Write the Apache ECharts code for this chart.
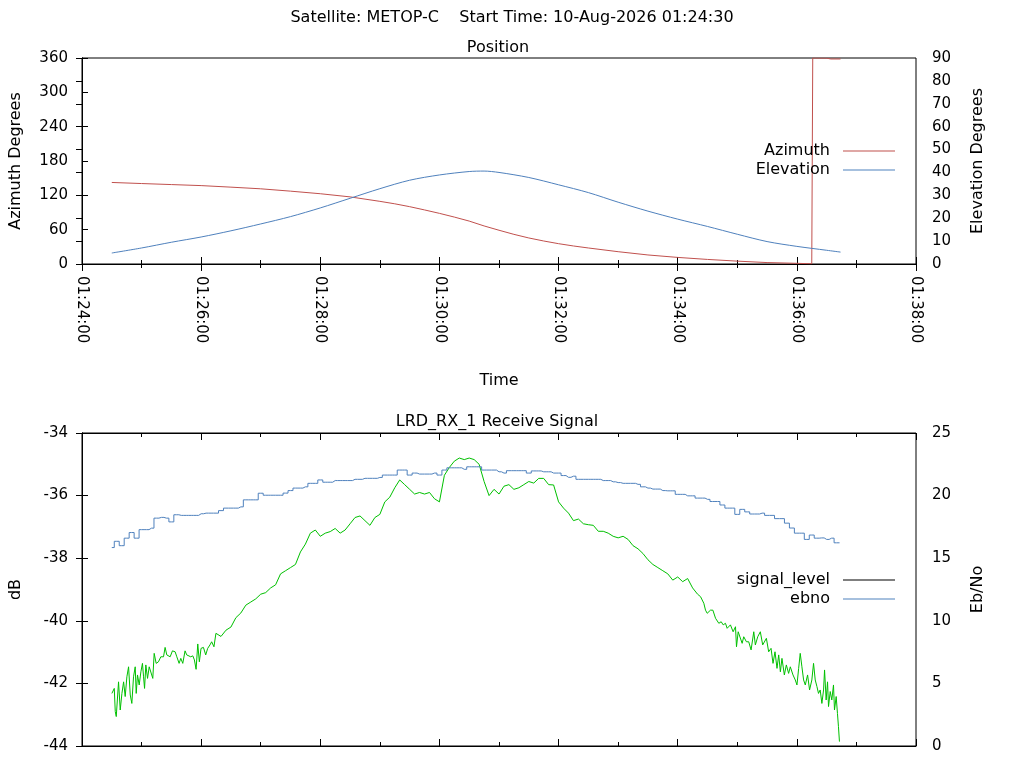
<!DOCTYPE html>
<html><head><meta charset="utf-8">
<script src="https://cdn.jsdelivr.net/npm/echarts@6/dist/echarts.min.js"></script>
<style>html,body{margin:0;padding:0;background:#fff}#c{width:1024px;height:768px}</style>
</head><body><div id="c"></div>
<script>
// ---- DATA (times in seconds after 01:24:00) ----
const mainTitle = 'Satellite: METOP-C    Start Time: 10-Aug-2026 01:24:30';
const xTickSeconds = [0, 120, 240, 360, 480, 600, 720, 840];

const azTimes = [30,60,90,120,150,180,210,240,270,300,315,330,345,360,375,390,405,420,435,450,465,480,495,510,540,570,600,630,660,690,720,735,736,750,754,764];
const azimuth = [142.5,140.6,138.8,137,134.3,131.4,127.3,122.8,117.3,109.5,105.2,100.2,94.5,88.5,82,75,66.5,59,51.8,45.5,40.2,35.5,31.5,28,21.5,15.8,11.5,8,5,2.5,1.2,0.4,360,359.7,358.3,358.3];

const elTimes = [30,60,90,120,150,180,210,240,270,300,330,360,390,405,420,450,480,510,540,570,600,630,660,690,720,750,764];
const elevation = [4.8,7.0,9.5,11.8,14.5,17.5,20.7,24.5,28.7,32.9,36.6,38.9,40.4,40.6,40.0,37.8,34.6,31.2,27.0,23.1,19.6,16.4,13.0,9.8,7.7,6.0,5.2];

const sigTimes = [30.1,32.5,33.5,34.5,36.8,38.5,40.2,41.9,43.5,45.2,46.9,48.6,50.2,51.9,53.6,54.6,55.9,57.6,59.3,60.9,62,63,64.3,66,67.7,69.3,71.3,72.7,74.7,77,79.4,82.1,83.7,85.4,87.1,88.8,91.1,93.8,95.5,97.8,99.5,101.5,103.8,105.5,107.2,109.5,111.6,113.2,114.9,116.6,118.2,119.9,122.3,124.6,126.6,128.9,130.6,132.9,134.9,
  140,145,150,155,160,165,170,175,180,185,190,195,200,205,210,215,220,225,230,235,240,245,250,255,260,265,270,275,280,285,290,295,300,305,310,315,320,325,330,335,340,345,350,355,360,365,370,375,380,385,390,395,400,405,410,415,420,425,430,435,440,445,450,455,460,465,470,475,480,485,490,495,500,505,510,515,520,525,530,535,540,545,550,555,560,565,570,575,580,585,590,595,600,605,610,615,620,
  623,626.3,628,629.7,633,635.4,638.1,641.4,643.8,645.8,648.1,649.8,653.1,655.8,658.2,659.2,660.9,662.5,664.9,666.5,669.2,671.5,673.9,676.6,678.2,680.6,683.2,685.6,687.3,689.3,691.6,694,696,698,700,701.7,703.4,705,707.4,709.4,711.7,713.4,716.1,718.4,720.1,721.8,723.4,725.1,726.8,728.5,730.8,732.8,735.1,736.8,738.5,740.2,741.8,743.5,745.2,746.9,747.9,749.5,750.9,751.9,753.6,755.2,756.9,757.9,759.6,760.9,761.9,762.9];
const signalLevel = [-42.32,-42.16,-42.9,-43.06,-41.95,-42.85,-42.32,-41.95,-42.42,-41.79,-41.47,-42.37,-42.64,-41.79,-41.47,-42.32,-41.73,-42.05,-41.63,-41.36,-41.79,-42.16,-41.41,-41.84,-41.47,-41.52,-41.84,-41.04,-41.36,-41.31,-41.15,-41.15,-40.85,-41.09,-41.04,-41.15,-40.96,-40.99,-41.15,-41.36,-41.2,-41.36,-40.96,-41.09,-41.04,-41.15,-41.12,-41.25,-41.55,-40.74,-41.31,-40.88,-40.85,-41.09,-40.88,-40.77,-40.67,-40.83,-40.4,
  -40.5,-40.3,-40.2,-39.9,-39.75,-39.5,-39.4,-39.3,-39.15,-39.1,-38.95,-38.85,-38.5,-38.4,-38.3,-38.2,-37.8,-37.55,-37.2,-37.1,-37.3,-37.2,-37.15,-37.05,-37.2,-37.1,-36.9,-36.7,-36.65,-36.8,-36.95,-36.7,-36.6,-36.2,-36.05,-35.75,-35.5,-35.65,-35.8,-35.95,-35.9,-35.95,-35.9,-36.1,-36.2,-35.35,-35.1,-34.9,-34.8,-34.85,-34.8,-34.85,-35.0,-35.55,-36.0,-35.8,-35.95,-35.7,-35.65,-35.8,-35.75,-35.65,-35.55,-35.6,-35.45,-35.45,-35.65,-35.66,-36.2,-36.4,-36.56,-36.8,-36.75,-36.9,-36.93,-36.95,-37.14,-37.14,-37.2,-37.3,-37.35,-37.3,-37.4,-37.6,-37.7,-37.85,-38.05,-38.2,-38.3,-38.4,-38.5,-38.7,-38.6,-38.75,-38.65,-38.95,-39.15,
  -39.23,-39.44,-39.66,-39.76,-39.66,-39.66,-39.92,-40.08,-40.03,-40.13,-40.08,-40.24,-40.13,-40.35,-40.19,-40.83,-40.35,-40.29,-40.72,-40.51,-40.67,-40.67,-40.93,-40.35,-40.77,-40.51,-40.35,-40.77,-40.83,-40.56,-40.99,-40.88,-41.36,-40.99,-41.52,-41.09,-41.63,-41.2,-41.73,-41.41,-41.68,-41.47,-41.73,-41.89,-42.05,-41.52,-41.04,-41.47,-41.89,-42.05,-41.73,-42.21,-41.89,-41.36,-41.89,-42.1,-42.32,-42.21,-42.64,-42.21,-41.57,-42.53,-41.95,-42.74,-42.26,-42.53,-42.05,-42.85,-42.42,-42.96,-43.38,-43.86];

const ebnoTimes = [30,35,40,45,50,55,60,65,70,75,80,85,90,95,100,105,110,115,120,125,130,135,140,145,150,155,160,165,170,175,180,185,190,195,200,205,210,215,220,225,230,235,240,245,250,255,260,265,270,275,280,285,290,295,300,305,310,315,320,325,330,335,340,345,350,355,360,365,370,375,380,385,390,395,400,405,410,415,420,425,430,435,440,445,450,455,460,465,470,475,480,485,490,495,500,505,510,515,520,525,530,535,540,545,550,555,560,565,570,575,580,585,590,595,600,605,610,615,620,625,630,635,640,645,650,655,660,665,670,675,680,685,690,695,700,705,710,715,720,725,730,735,740,745,750,755,760,763];
const ebno = [15.85,16.35,16.0,16.6,17.05,16.6,17.28,17.28,17.4,18.2,18.26,18.2,17.9,18.47,18.42,18.42,18.42,18.42,18.55,18.6,18.6,18.6,18.8,19.0,19.0,19.0,19.1,19.66,19.66,19.66,20.19,20.03,20.03,20.03,20.03,20.2,20.4,20.6,20.6,20.7,20.98,20.98,21.25,21.07,21.07,21.2,21.2,21.2,21.2,21.3,21.3,21.38,21.38,21.38,21.45,21.64,21.64,21.64,22.04,22.04,21.64,21.8,21.72,21.72,21.72,21.8,21.64,22.04,22.22,22.22,22.22,22.1,22.3,22.3,22.3,22.04,22.04,22.04,21.9,21.8,21.99,21.99,21.99,21.99,21.8,21.97,21.97,21.9,21.9,21.8,21.8,21.6,21.46,21.55,21.3,21.3,21.3,21.3,21.3,21.2,21.2,21.1,21.04,20.98,20.98,20.98,20.9,20.7,20.6,20.52,20.52,20.4,20.38,20.38,20.1,20.1,19.98,19.98,19.8,19.8,19.7,19.53,19.53,19.25,19.0,19.0,18.5,18.9,18.7,18.53,18.53,18.6,18.42,18.42,18.16,18.16,17.8,17.41,17.0,17.0,16.5,16.85,16.6,16.62,16.5,16.6,16.23,16.23];

// ---- CHART ----
const FONT = 'DejaVu Sans';
const pair = (ts, vs) => ts.map((t, i) => [t, vs[i]]);
const pad = n => (n < 10 ? '0' : '') + n;
const fmtTime = v => { const s = 24 * 60 + v; return '01:' + pad(Math.floor(s / 60)) + ':' + pad(Math.round(s % 60)); };

const axLine = { show: true, lineStyle: { color: '#000', width: 1 } };
const tick = { show: true, inside: true, length: 7, lineStyle: { color: '#000' } };
const minor = { show: true, splitNumber: 2, length: 4, lineStyle: { color: '#000' } };
const lbl = { color: '#000', fontFamily: FONT, fontSize: 15 };
const nameStyle = { color: '#000', fontFamily: FONT, fontSize: 16 };

function xAx(grid, pos, showLabel, extra) {
  return Object.assign({
    type: 'value', gridIndex: grid, position: pos, min: xTickSeconds[0], max: xTickSeconds[xTickSeconds.length - 1], interval: 120,
    axisLine: axLine, axisTick: tick, minorTick: minor, splitLine: { show: false },
    axisLabel: Object.assign({ show: showLabel, rotate: -90, margin: 12, formatter: fmtTime }, lbl)
  }, extra || {});
}
function yAx(grid, pos, min, max, interval, name, gap) {
  return {
    type: 'value', gridIndex: grid, position: pos, min: min, max: max, interval: interval,
    axisLine: axLine, axisTick: { show: true, inside: true, length: 6, lineStyle: { color: '#000' } },
    splitLine: { show: false },
    axisLabel: Object.assign({ margin: pos === 'left' ? 14 : 16 }, lbl),
    name: name, nameLocation: 'middle', nameRotate: 90, nameGap: gap, nameTextStyle: nameStyle
  };
}
const legendText = { color: '#000', fontFamily: FONT, fontSize: 16, lineHeight: 16, padding: [0, 8, 0, 0] };

const chart = echarts.init(document.getElementById('c'), null, { renderer: 'canvas' });
chart.setOption({
  animation: false,
  backgroundColor: '#fff',
  title: [{ text: mainTitle, left: 'center', top: 10, padding: 0, textStyle: { color: '#000', fontFamily: FONT, fontSize: 16, fontWeight: 'normal' } }],
  graphic: [
    { type: 'text', x: 498, y: 48, style: { text: 'Position', fill: '#000', font: '16px "DejaVu Sans"', textAlign: 'center', textVerticalAlign: 'middle' } },
    { type: 'text', x: 497, y: 422, style: { text: 'LRD_RX_1 Receive Signal', fill: '#000', font: '16px "DejaVu Sans"', textAlign: 'center', textVerticalAlign: 'middle' } }
  ],
  grid: [
    { left: 80, right: 108, top: 58, height: 206, show: true, borderColor: '#000', borderWidth: 1, backgroundColor: 'transparent' },
    { left: 80, right: 108, top: 433, height: 313, show: true, borderColor: '#000', borderWidth: 1, backgroundColor: 'transparent' }
  ],
  legend: [
    { data: ['Azimuth', 'Elevation'], orient: 'vertical', align: 'right', right: 124, top: 138, icon: 'rect', itemWidth: 52, itemHeight: 1, itemGap: 3, selectedMode: false, textStyle: legendText },
    { data: [{ name: 'signal_level', itemStyle: { color: '#000' } }, 'ebno'], orient: 'vertical', align: 'right', right: 124, top: 567, icon: 'rect', itemWidth: 52, itemHeight: 1, itemGap: 3, selectedMode: false, textStyle: legendText }
  ],
  xAxis: [
    xAx(0, 'bottom', true, { name: 'Time', nameLocation: 'middle', nameGap: 109, nameTextStyle: nameStyle }),
    xAx(0, 'top', false),
    xAx(1, 'bottom', false),
    xAx(1, 'top', false)
  ],
  yAxis: [
    yAx(0, 'left', 0, 360, 60, 'Azimuth Degrees', 58),
    yAx(0, 'right', 0, 90, 10, 'Elevation Degrees', 54),
    yAx(1, 'left', -44, -34, 2, 'dB', 58),
    yAx(1, 'right', 0, 25, 5, 'Eb/No', 54)
  ],
  series: [
    { name: 'Azimuth', type: 'line', xAxisIndex: 0, yAxisIndex: 0, data: pair(azTimes, azimuth), showSymbol: false, symbol: 'none', color: '#c0504d', lineStyle: { width: 1, color: '#c0504d' } },
    { name: 'Elevation', type: 'line', xAxisIndex: 0, yAxisIndex: 1, data: pair(elTimes, elevation), showSymbol: false, symbol: 'none', smooth: 0.3, color: '#4f81bd', lineStyle: { width: 1, color: '#4f81bd' } },
    { name: 'signal_level', type: 'line', xAxisIndex: 2, yAxisIndex: 2, data: pair(sigTimes, signalLevel), showSymbol: false, symbol: 'none', color: '#00c000', lineStyle: { width: 1, color: '#00c000' } },
    { name: 'ebno', type: 'line', xAxisIndex: 2, yAxisIndex: 3, data: pair(ebnoTimes, ebno), step: 'middle', showSymbol: false, symbol: 'none', color: '#4f81bd', lineStyle: { width: 1, color: '#4f81bd' } }
  ]
});
</script>
</body></html>
